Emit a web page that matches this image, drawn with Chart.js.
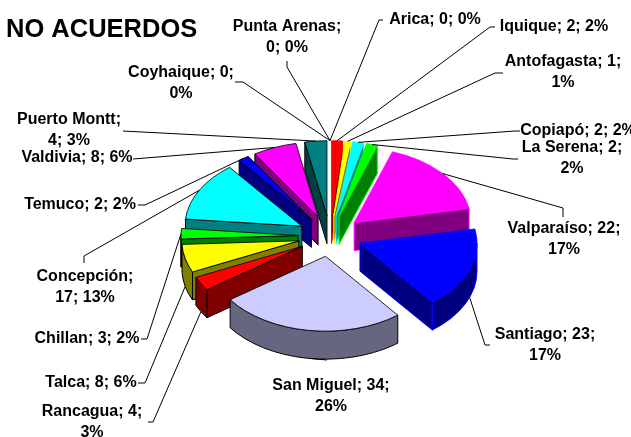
<!DOCTYPE html>
<html>
<head>
<meta charset="utf-8">
<style>html,body{margin:0;padding:0;background:#fff;overflow:hidden}canvas{display:block}</style>
<script src="https://cdn.jsdelivr.net/npm/chart.js@4"></script>
</head>
<body>
<canvas id="c" width="631" height="437"></canvas>
<script>
const categories = ["Arica","Iquique","Antofagasta","Copiapó","La Serena","Valparaíso","Santiago","San Miguel","Rancagua","Talca","Chillan","Concepción","Temuco","Valdivia","Puerto Montt","Coyhaique","Punta Arenas"];
const values = [0,2,1,2,2,22,23,34,4,8,3,17,2,8,4,0,0];
const topColors = ["#ff0000","#ff0000","#ffff00","#00ffff","#00ff00","#ff00ff","#0000ff","#ccccff","#ff0000","#ffff00","#00ff00","#00ffff","#0000ff","#ff00ff","#008080","#00ffff","#ff00ff"];
const sideColors = ["#800000","#800000","#808000","#008080","#008000","#800080","#000080","#666680","#800000","#808000","#008000","#008080","#000080","#800080","#004040","#008080","#800080"];
const edgeColors = ["#000","#ff0000","#ffff00","#00ffff","#00ff00","#ff00ff","#0000ff","#000","#000","#000","#000","#000","#000","#000","#000","#000","#000"];
const titleText = "NO ACUERDOS";

// label layout: centre x, first line centre y, tokens on first line
const labelX = [435,554,563,578,572,564,545,331,92,91,87,85,80,77,69,181,287];
const labelY = [20,27,62,131,148,229,335,386,412,383,339,277,205,158,120,73,27];
const labelSplit = [3,3,2,3,2,2,2,2,2,3,3,1,3,3,1,2,1];
// leader elbows, from the label towards the slice
const leaderElbows = [
  [[383,20],[379,20]],
  [[495,27],[490,27]],
  [[503,73],[495,73]],
  [[520,131],[515,131]],
  [[518,159],[513,159]],
  [[563,217],[563,208]],
  [[490,345],[485,345]],
  [[327,360]],
  [[148,422],[153,422]],
  [[138,383],[145,383]],
  [[141,339],[147,339]],
  [[84,263],[84,256]],
  [[138,205],[145,205]],
  [[133,159]],
  [[123,131]],
  [[235,82],[243,82]],
  [[287,61],[287,67]]
];

const RX = 117, SQUASH = 0.64, DEPTH = 28, EXPLODE = 32;
const total = values.reduce((a,b)=>a+b,0);

const pie3d = {
  id:'pie3d',
  beforeDatasetDraw(chart){
    const ctx = chart.ctx, arcs = chart.getDatasetMeta(0).data;
    const geo = arcs.map((a,i)=>{
      const mid=(a.startAngle+a.endAngle)/2;
      return {a,i,s:a.startAngle,e:a.endAngle,mid,r:a.outerRadius,
        ax:a.x+Math.cos(mid)*EXPLODE, ay:a.y+Math.sin(mid)*EXPLODE*SQUASH};
    }).filter(g=>g.e>g.s);
    geo.sort((p,q)=>p.ay-q.ay);
    for(const g of geo){
      ctx.save();
      ctx.lineWidth=1; ctx.lineJoin='round';
      ctx.fillStyle=sideColors[g.i]; ctx.strokeStyle=edgeColors[g.i];
      const px=a=>g.ax+g.r*Math.cos(a), py=a=>g.ay+g.r*SQUASH*Math.sin(a);
      const quad=a=>{
        ctx.beginPath();ctx.moveTo(g.ax,g.ay);ctx.lineTo(px(a),py(a));
        ctx.lineTo(px(a),py(a)+DEPTH);ctx.lineTo(g.ax,g.ay+DEPTH);ctx.closePath();
        ctx.fill();ctx.stroke();
      };
      if(Math.cos(g.s)<0) quad(g.s);
      if(Math.cos(g.e)>0) quad(g.e);
      // outer wall: the part of the rim that faces the viewer
      const lo=Math.max(g.s,0), hi=Math.min(g.e,Math.PI);
      if(hi>lo){
        ctx.beginPath();
        ctx.ellipse(g.ax,g.ay,g.r,g.r*SQUASH,0,lo,hi,false);
        ctx.ellipse(g.ax,g.ay+DEPTH,g.r,g.r*SQUASH,0,hi,lo,true);
        ctx.closePath();ctx.fill();ctx.stroke();
      }
      // top face: the library's own arc element, moved out and flattened
      ctx.translate(g.ax,g.ay);ctx.scale(1,SQUASH);ctx.translate(-g.a.x,-g.a.y);
      g.a.draw(ctx);
      ctx.restore();
    }
    return false;
  },
  afterDatasetsDraw(chart){
    const ctx=chart.ctx, arcs=chart.getDatasetMeta(0).data;
    ctx.save();
    // leaders
    ctx.strokeStyle='#000';ctx.lineWidth=1;
    arcs.forEach((a,i)=>{
      const mid=(a.startAngle+a.endAngle)/2, rr=a.outerRadius+EXPLODE;
      const tx=a.x+Math.cos(mid)*rr;
      let ty=a.y+Math.sin(mid)*rr*SQUASH;
      if(Math.sin(mid)>0.1) ty+=DEPTH;
      ctx.beginPath();
      leaderElbows[i].forEach((p,k)=>k?ctx.lineTo(p[0],p[1]):ctx.moveTo(p[0],p[1]));
      ctx.lineTo(tx,ty);ctx.stroke();
    });
    // labels
    ctx.fillStyle='#000';ctx.textAlign='center';ctx.textBaseline='middle';
    ctx.font='bold 16px "Liberation Sans"';
    categories.forEach((n,i)=>{
      const pct=Math.round(values[i]/total*100);
      const toks=[n+';',values[i]+';',pct+'%'];
      const k=labelSplit[i];
      ctx.fillText(toks.slice(0,k).join(' '),labelX[i],labelY[i]);
      if(k<3) ctx.fillText(toks.slice(k).join(' '),labelX[i],labelY[i]+21);
    });
    ctx.textAlign='left';
    ctx.font='bold 25.5px "Liberation Sans"';
    ctx.fillText(titleText,6,30);
    ctx.restore();
  }
};

new Chart(document.getElementById('c'),{
  type:'pie',
  data:{labels:categories,datasets:[{data:values,backgroundColor:topColors,borderColor:edgeColors,borderWidth:1}]},
  options:{
    responsive:false,animation:false,radius:RX,
    layout:{padding:{left:29,top:35,right:0,bottom:0}},
    plugins:{legend:{display:false},tooltip:{enabled:false}}
  },
  plugins:[pie3d]
});
</script>
</body>
</html>
